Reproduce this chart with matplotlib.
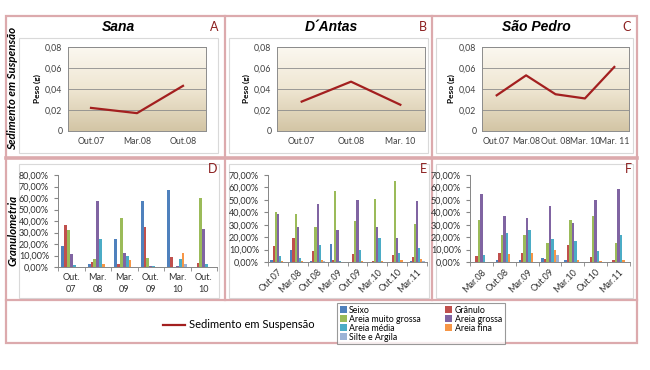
import numpy as np
import matplotlib
matplotlib.use("Agg")
import matplotlib.pyplot as plt
from matplotlib.patches import Rectangle

plt.rcParams["font.family"] = ["Lato", "DejaVu Sans"]

# ---- data -------------------------------------------------------------
sana_dates = ["Out.07", "Mar.08", "Out.08"]
sana_peso = [0.022, 0.017, 0.043]
antas_dates = ["Out.07", "Out.08", "Mar. 10"]
antas_peso = [0.028, 0.047, 0.025]
pedro_dates = ["Out.07", "Mar.08", "Out. 08", "Mar. 10", "Mar. 11"]
pedro_peso = [0.034, 0.053, 0.035, 0.031, 0.061]

classes = ["Seixo", "Grânulo", "Areia muito grossa", "Areia grossa",
           "Areia média", "Areia fina", "Silte e Argila"]
class_colors = ["#4f81bd", "#c0504d", "#9bbb59", "#8064a2",
                "#4bacc6", "#f79646", "#9db3d6"]

sana_gran_dates = ["Out.\n07", "Mar.\n08", "Mar.\n09", "Out.\n09", "Mar.\n10", "Out.\n10"]
sana_gran = {  # percent, one list per class, in date order
    "Seixo":              [18.5, 3.0, 24.5, 57.0, 67.0, 0.3],
    "Grânulo":            [36.5, 4.5, 3.0, 35.0, 8.5, 3.5],
    "Areia muito grossa": [32.5, 7.0, 43.0, 7.5, 0.4, 60.0],
    "Areia grossa":       [11.0, 57.0, 12.5, 0.5, 1.0, 33.0],
    "Areia média":        [1.5, 24.0, 10.0, 0.5, 7.0, 3.0],
    "Areia fina":         [0.4, 3.0, 6.0, 0.3, 12.0, 0.4],
    "Silte e Argila":     [0.4, 0.4, 0.4, 0.2, 3.0, 0.3],
}
antas_gran_dates = ["Out.07", "Mar.08", "Out.08", "Mar.09", "Out.09", "Mar.10", "Out.10", "Mar.11"]
antas_gran = {
    "Seixo":              [2.0, 10.0, 1.0, 14.5, 0.3, 0.3, 0.3, 1.0],
    "Grânulo":            [13.0, 19.0, 8.5, 1.5, 6.5, 0.5, 6.0, 4.0],
    "Areia muito grossa": [40.0, 39.0, 28.5, 57.0, 33.0, 51.0, 65.0, 30.5],
    "Areia grossa":       [39.0, 28.0, 46.5, 26.0, 50.0, 28.5, 19.5, 49.0],
    "Areia média":        [5.0, 3.5, 14.0, 0.5, 10.0, 19.5, 7.5, 11.5],
    "Areia fina":         [0.5, 0.5, 2.0, 0.3, 0.5, 0.5, 2.0, 2.5],
    "Silte e Argila":     [0.3, 0.3, 0.5, 0.3, 0.3, 0.3, 0.3, 1.0],
}
pedro_gran_dates = ["Mar.08", "Out.08", "Mar.09", "Out.09", "Mar.10", "Out.10", "Mar.11"]
pedro_gran = {
    "Seixo":              [0.3, 2.0, 2.0, 3.0, 2.0, 0.3, 0.3],
    "Grânulo":            [4.5, 7.5, 7.5, 2.5, 13.5, 4.0, 2.0],
    "Areia muito grossa": [33.5, 22.0, 22.0, 15.5, 34.0, 37.0, 15.5],
    "Areia grossa":       [54.5, 37.0, 35.5, 45.0, 31.0, 50.0, 59.0],
    "Areia média":        [6.0, 23.5, 25.5, 18.5, 16.5, 8.5, 22.0],
    "Areia fina":         [0.3, 6.5, 7.5, 10.0, 2.0, 1.0, 1.5],
    "Silte e Argila":     [0.3, 0.3, 0.3, 6.0, 0.3, 0.3, 0.3],
}

LINE = "#a31f1f"
PINK = "#dcaaad"
LETTER = "#8b1f1f"
W, H = 650, 370


def box(x0, y0, x1, y1):
    return [x0 / W, 1 - y1 / H, (x1 - x0) / W, (y1 - y0) / H]


fig = plt.figure(figsize=(6.5, 3.7), dpi=100)
bg = fig.add_axes([0, 0, 1, 1], zorder=-5)
bg.set_xlim(0, W); bg.set_ylim(H, 0); bg.axis("off")

# chart-area boxes (light grey) and pink panel frame
for x0, y0, x1, y1 in [(19, 38, 218, 153), (229, 38, 428, 153), (436, 38, 633, 153),
                       (19, 164, 219, 298), (229, 164, 429, 298), (436, 164, 633, 298)]:
    bg.add_patch(Rectangle((x0, y0), x1 - x0, y1 - y0, fill=False, ec="#d9d9d9", lw=0.8))
bg.add_patch(Rectangle((6, 16), 631, 327, fill=False, ec=PINK, lw=1.6))
for x in (225, 432):
    bg.plot([x, x], [16, 300], color=PINK, lw=1.6)
bg.plot([6, 637], [158, 158], color=PINK, lw=2.6)
bg.plot([6, 637], [300, 300], color=PINK, lw=1.6)

# ---- top row: suspended sediment -------------------------------------
grad = np.linspace(0, 1, 256).reshape(-1, 1)
cmap = matplotlib.colors.LinearSegmentedColormap.from_list("beige", ["#fbf8f0", "#efe6d2", "#d3c5a5"])
tops = [(sana_dates, sana_peso, "Sana", "A", (68, 47, 206, 131), 118, 214),
        (antas_dates, antas_peso, "D´Antas", "B", (277, 47, 425, 131), 331, 423),
        (pedro_dates, pedro_peso, "São Pedro", "C", (482, 47, 629, 131), 536, 627)]
line_handle = None
for dates, peso, title, letter, bb, tx, lx in tops:
    ax = fig.add_axes(box(*bb))
    ax.imshow(grad, cmap=cmap, aspect="auto", extent=[0, 1, 0, 1],
              transform=ax.transAxes, zorder=0)
    x = np.arange(len(dates))
    line_handle, = ax.plot(x, peso, color=LINE, lw=1.6, zorder=3)
    ax.set_xlim(-0.5, len(dates) - 0.5); ax.set_ylim(0, 0.08)
    ax.set_xticks(x); ax.set_xticklabels(dates)
    ax.set_yticks([0, 0.02, 0.04, 0.06, 0.08])
    ax.set_yticklabels(["0", "0,02", "0,04", "0,06", "0,08"])
    ax.tick_params(length=0, labelsize=6.3, colors="#404040", pad=4)
    ax.grid(axis="y", color="#8c8c8c", lw=0.6)
    ax.set_axisbelow(False)
    for s in ax.spines.values():
        s.set_color("#8c8c8c"); s.set_linewidth(0.7)
    ax.set_ylabel("Peso (g)", fontsize=6, fontweight="bold", labelpad=3)
    bg.text(tx, 27, title, ha="center", va="center", fontsize=10,
            fontweight="bold", style="italic", family="Liberation Sans")
    bg.text(lx, 27, letter, ha="center", va="center", fontsize=9, color=LETTER)

bg.text(13, 88, "Sedimento em Suspensão", rotation=90, ha="center", va="center",
        fontsize=8.3, fontweight="bold", style="italic")
bg.text(13, 230, "Granulometria", rotation=90, ha="center", va="center",
        fontsize=8.3, fontweight="bold", style="italic")

# ---- bottom row: grain size ----------------------------------------------
bottoms = [(sana_gran_dates, sana_gran, 80, (58, 175, 217, 267), "D", 213, 0),
           (antas_gran_dates, antas_gran, 70, (268, 175, 427, 262), "E", 423, 45),
           (pedro_gran_dates, pedro_gran, 70, (470, 175, 630, 262), "F", 628, 45)]
bar_handles = []
for dates, gran, ymax, bb, letter, lx, rot in bottoms:
    ax = fig.add_axes(box(*bb))
    x = np.arange(len(dates))
    bw = 0.75 / len(classes)
    hs = []
    for i, (cls, col) in enumerate(zip(classes, class_colors)):
        hs.append(ax.bar(x - 0.375 + bw * (i + 0.5), gran[cls], bw, color=col, lw=0))
    bar_handles = hs
    ax.set_xlim(-0.5, len(dates) - 0.5); ax.set_ylim(0, ymax)
    ax.set_yticks(np.arange(0, ymax + 1, 10))
    ax.set_yticklabels([f"{v:.2f}%".replace(".", ",") for v in np.arange(0, ymax + 1, 10)])
    ax.set_xticks(x)
    if rot:
        ax.set_xticklabels(dates, rotation=rot, ha="right", rotation_mode="anchor")
    else:
        ax.set_xticklabels(dates, linespacing=1.5)
    ax.set_xticks(np.arange(-0.5, len(dates)), minor=True)
    ax.tick_params(axis="x", which="major", length=0, pad=4)
    ax.tick_params(axis="x", which="minor", length=3, color="#868686")
    ax.tick_params(axis="y", length=3, color="#868686")
    ax.tick_params(labelsize=6.5, labelcolor="#303030")
    for s in ("top", "right"):
        ax.spines[s].set_visible(False)
    for s in ("left", "bottom"):
        ax.spines[s].set_color("#868686"); ax.spines[s].set_linewidth(0.7)
    bg.text(lx, 169, letter, ha="center", va="center", fontsize=9, color=LETTER)

# ---- legends ---------------------------------------------------------------
fig.legend([line_handle], ["Sedimento em Suspensão"], loc="center left",
           bbox_to_anchor=(153 / W, 1 - 325 / H), frameon=False, fontsize=8,
           handlelength=2.0, handletextpad=0.3)
order = [0, 2, 4, 6, 1, 3, 5]
leg = fig.legend([bar_handles[i] for i in order], [classes[i] for i in order],
                 ncol=2, loc="upper left", bbox_to_anchor=(333 / W, 1 - 299 / H),
                 fontsize=6.3, handlelength=0.8, handleheight=0.8, handletextpad=0.3,
                 labelspacing=0.0, columnspacing=2.8, borderpad=0.25,
                 fancybox=False, edgecolor="#808080")
leg.get_frame().set_linewidth(0.8)

fig.savefig("out.png", dpi=100)
